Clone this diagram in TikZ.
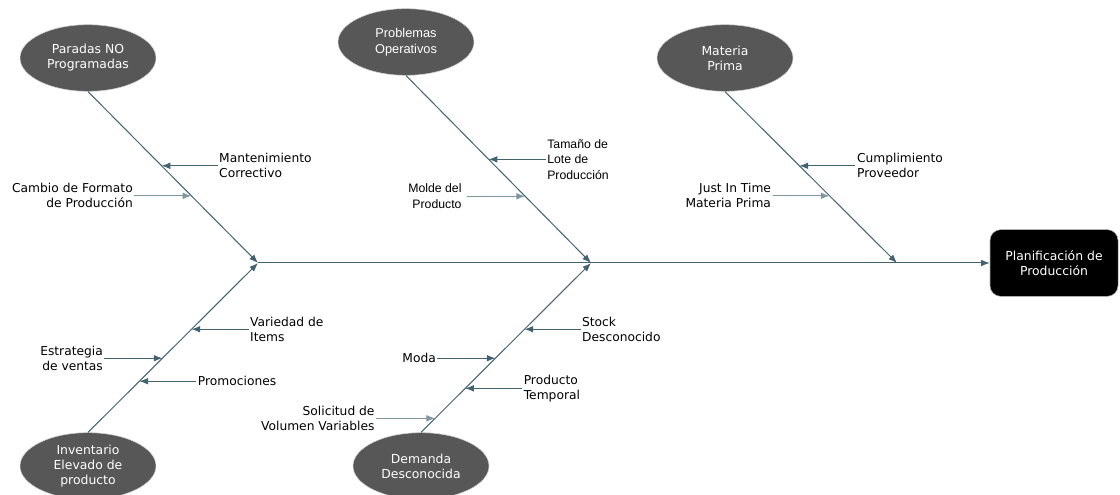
\documentclass[tikz,border=0pt]{standalone}
\usepackage{fontspec}
\setmainfont{DejaVu Sans}
\newfontfamily\arialfont{Liberation Sans}
\usetikzlibrary{shapes.geometric,arrows.meta,calc}
\definecolor{bonecol}{HTML}{41626E}
\definecolor{subcol}{HTML}{7E97A0}
\definecolor{causecol}{HTML}{575757}

\begin{document}
\begin{tikzpicture}[x=0.75pt,y=-0.75pt,
  cause/.style={ellipse,draw=gray!35,fill=causecol,text=white,minimum width=102pt,minimum height=50pt,inner sep=0pt,align=center,font=\fontsize{9.3}{11.2}\selectfont},
  effect/.style={rectangle,rounded corners=8pt,draw=gray!60,fill=black,text=white,minimum width=96pt,minimum height=50pt,align=center,font=\fontsize{9.3}{11.4}\selectfont},
  bone/.style={draw=bonecol,line width=0.75pt,-{Latex[length=6.5pt,width=5pt]}},
  lbone/.style={bone,draw=subcol},
  lbl/.style={inner sep=1pt,font=\fontsize{9.2}{11.3}\selectfont},
  lbll/.style={lbl,anchor=west,align=left},
  lblr/.style={lbl,anchor=east,align=right}]
\useasboundingbox (0,0) rectangle (1120,495);

\node [cause] (paradas) at (88,58) {Paradas NO\\Programadas};
\node [cause,font=\arialfont\fontsize{9.6}{11.6}\selectfont] (problemas) at (406,42) {Problemas\\Operativos};
\node [cause] (materia) at (725,58) {Materia\\Prima};
\node [cause] (inventario) at (88,466) {Inventario\\Elevado de\\producto};
\node [cause] (demanda) at (421,466) {Demanda\\Desconocida};
\node [effect] (plan) at (1054,263) {Planificación de\\Producción};

\coordinate (j1) at (258,263);
\coordinate (j2) at (591,263);
\coordinate (j3) at (897,263);

\draw [bone] (j1) -- (plan);
\draw [bone] (paradas.south) -- (j1);
\draw [bone] (problemas.south) -- (j2);
\draw [bone] (materia.south) -- (j3);
\draw [bone] (inventario.north) -- (j1);
\draw [bone] (demanda.north) -- (j2);

\coordinate (mant) at ($(paradas.south)!0.433!(j1)$);
\coordinate (camb) at ($(paradas.south)!0.608!(j1)$);
\coordinate (tama) at ($(problemas.south)!0.447!(j2)$);
\coordinate (mold) at ($(problemas.south)!0.644!(j2)$);
\coordinate (cump) at ($(materia.south)!0.433!(j3)$);
\coordinate (just) at ($(materia.south)!0.608!(j3)$);
\coordinate (vari) at ($(inventario.north)!0.609!(j1)$);
\coordinate (estr) at ($(inventario.north)!0.438!(j1)$);
\coordinate (prom) at ($(inventario.north)!0.302!(j1)$);
\coordinate (stoc) at ($(demanda.north)!0.609!(j2)$);
\coordinate (moda) at ($(demanda.north)!0.438!(j2)$);
\coordinate (prod) at ($(demanda.north)!0.26!(j2)$);
\coordinate (soli) at ($(demanda.north)!0.083!(j2)$);

\node [lbll] (mantl) at ($(mant)+(56,0)$) {Mantenimiento\\Correctivo};
\node [lblr] (cambl) at ($(camb)+(-57,0)$) {Cambio de Formato\\de Producción};
\node [lbll,font=\arialfont\fontsize{9.2}{11.6}\selectfont] (tamal) at ($(tama)+(57,0)$) {Tamaño de\\Lote de\\Producción};
\node [lblr,font=\arialfont\fontsize{9.2}{11.6}\selectfont,inner sep=4pt] (moldl) at ($(mold)+(-58,0)$) {Molde del\\Producto};
\node [lbll] (cumpl) at ($(cump)+(56,0)$) {Cumplimiento\\Proveedor};
\node [lblr] (justl) at ($(just)+(-57,0)$) {Just In Time\\Materia Prima};
\node [lbll] (varil) at ($(vari)+(57,0)$) {Variedad de\\Items};
\node [lblr] (estrl) at ($(estr)+(-58,0)$) {Estrategia\\de ventas};
\node [lbll] (proml) at ($(prom)+(57,0)$) {Promociones};
\node [lbll] (stocl) at ($(stoc)+(56,0)$) {Stock\\Desconocido};
\node [lblr] (modal) at ($(moda)+(-58,0)$) {Moda};
\node [lbll] (prodl) at ($(prod)+(57,0)$) {Producto\\Temporal};
\node [lblr] (solil) at ($(soli)+(-59,0)$) {Solicitud de\\Volumen Variables};

\draw [bone] (mantl.west) -- (mant);
\draw [lbone] (cambl.east) -- (camb);
\draw [bone] (tamal.west) -- (tama);
\draw [lbone] (moldl.east) -- (mold);
\draw [bone] (cumpl.west) -- (cump);
\draw [lbone] (justl.east) -- (just);
\draw [bone] (varil.west) -- (vari);
\draw [bone] (estrl.east) -- (estr);
\draw [bone] (proml.west) -- (prom);
\draw [bone] (stocl.west) -- (stoc);
\draw [bone] (modal.east) -- (moda);
\draw [bone] (prodl.west) -- (prod);
\draw [lbone] (solil.east) -- (soli);
\end{tikzpicture}
\end{document}
